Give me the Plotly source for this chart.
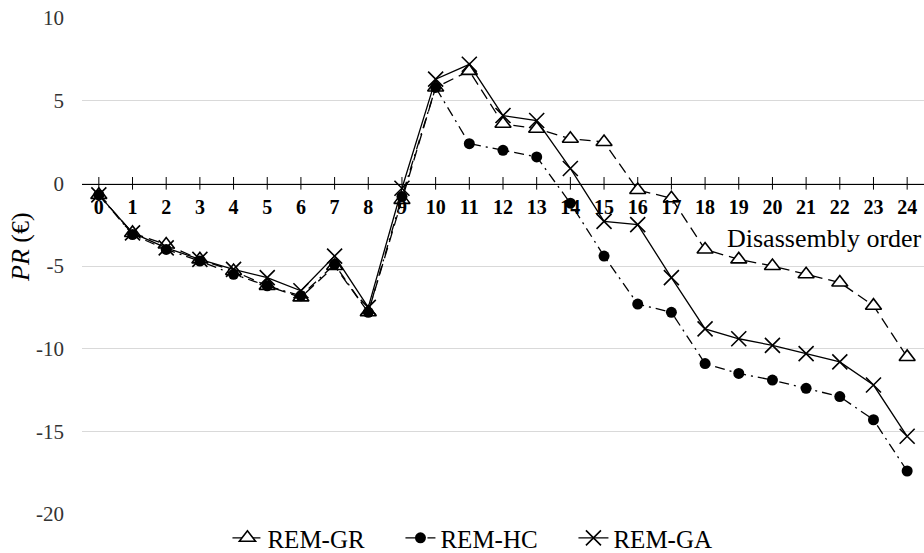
import plotly.graph_objects as go

order = list(range(25))
tick_text = [str(i) for i in order]

rem_gr = [-0.7, -3.0, -3.7, -4.6, -5.3, -6.2, -6.9, -5.0, -7.8, -1.0, 5.8, 6.8, 3.6, 3.3, 2.7, 2.5,
          -0.4, -0.9, -4.0, -4.6, -5.0, -5.5, -6.0, -7.4, -10.5]
rem_hc = [-0.7, -3.1, -4.0, -4.7, -5.5, -6.2, -6.8, -4.9, -7.8, -0.8, 5.8, 2.4, 2.0, 1.6, -1.2, -4.4,
          -7.3, -7.8, -10.9, -11.5, -11.9, -12.4, -12.9, -14.3, -17.4]
rem_ga = [-0.7, -3.0, -3.9, -4.6, -5.2, -5.7, -6.5, -4.4, -7.5, -0.3, 6.3, 7.2, 4.1, 3.8, 0.9, -2.3,
          -2.5, -5.7, -8.8, -9.4, -9.8, -10.3, -10.8, -12.2, -15.3]

series_names = ["REM-GR", "REM-HC", "REM-GA"]
y_ticks = [-20, -15, -10, -5, 0, 5, 10]
y_tick_text = ["-20", "-15", "-10", "-5", "0", "5", "10"]

SERIF = "Liberation Serif, Times New Roman, serif"

fig = go.Figure()

# cross tick marks on the zero axis line
fig.add_trace(go.Scatter(
    x=order, y=[0] * len(order), mode="markers",
    marker=dict(symbol="line-ns", size=9, line=dict(width=1, color="black"), color="black"),
    showlegend=False, hoverinfo="skip"))

fig.add_trace(go.Scatter(
    x=order, y=rem_gr, name=series_names[0], mode="lines+markers",
    line=dict(color="black", width=1.3, dash="11px,6px"),
    marker=dict(symbol="triangle-up", size=14, color="white", line=dict(color="black", width=1.6))))
fig.add_trace(go.Scatter(
    x=order, y=rem_hc, name=series_names[1], mode="lines+markers",
    line=dict(color="black", width=1.3, dash="10px,5px,2px,5px"),
    marker=dict(symbol="circle", size=11, color="black")))
fig.add_trace(go.Scatter(
    x=order, y=rem_ga, name=series_names[2], mode="lines+markers",
    line=dict(color="black", width=1.3),
    marker=dict(symbol="x-thin", size=15, color="black", line=dict(color="black", width=1.6))))

fig.update_layout(
    width=924, height=553,
    margin=dict(l=82, r=0, t=18, b=39, autoexpand=False),
    paper_bgcolor="white", plot_bgcolor="white",
    font=dict(family=SERIF, color="black"),
    showlegend=True,
    legend=dict(orientation="h", xref="container", yref="container", x=0.527, y=0.027,
                xanchor="center", yanchor="middle", font=dict(size=25, family=SERIF),
                itemwidth=30, entrywidth=128, bgcolor="rgba(0,0,0,0)"),
    xaxis=dict(range=[-0.5, 24.5], anchor="free", position=0.6653,
               tickmode="array", tickvals=order, ticktext=tick_text,
               showline=True, linecolor="black", linewidth=1, ticks="",
               ticklabelstandoff=5,
               showgrid=False, zeroline=False,
               tickfont=dict(size=20, family=SERIF, weight="bold", color="black")),
    yaxis=dict(range=[-20, 10], tickmode="array", tickvals=y_ticks, ticktext=y_tick_text,
               showgrid=True, gridcolor="#d9d9d9", gridwidth=1, zeroline=False,
               showline=False, ticks="", ticklabelstandoff=17,
               tickfont=dict(size=21, family=SERIF, color="#333333")),
    annotations=[
        dict(text="Disassembly order", xref="paper", yref="paper", x=1.0, y=(514 - 238) / 496,
             xanchor="right", yanchor="middle", showarrow=False,
             font=dict(size=26, family=SERIF, color="black")),
        dict(text="<i>PR</i> (€)", xref="paper", yref="paper", x=(20 - 82) / 842, y=(514 - 247) / 496,
             xanchor="center", yanchor="middle", textangle=-90, showarrow=False,
             font=dict(size=26, family=SERIF, color="black")),
    ],
)

fig.write_html("out.html")
